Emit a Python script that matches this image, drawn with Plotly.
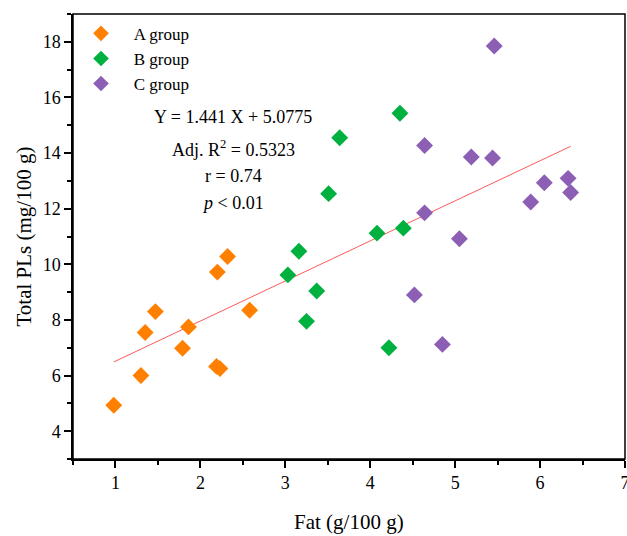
import plotly.graph_objects as go

a_x = [0.98, 1.30, 1.35, 1.47, 1.79, 1.86, 2.20, 2.32, 2.19, 2.23, 2.58]
a_y = [4.93, 6.00, 7.55, 8.30, 6.98, 7.75, 9.72, 10.28, 6.33, 6.25, 8.35]
b_x = [4.35, 3.64, 3.51, 4.08, 4.39, 3.16, 3.03, 3.37, 3.25, 4.22]
b_y = [15.43, 14.55, 12.54, 11.12, 11.30, 10.47, 9.62, 9.04, 7.95, 7.00]
c_x = [5.46, 4.64, 5.19, 5.44, 6.33, 6.05, 6.36, 5.89, 4.64, 5.05, 4.52, 4.85]
c_y = [17.85, 14.27, 13.86, 13.82, 13.09, 12.93, 12.58, 12.24, 11.85, 10.92, 8.90, 7.12]
slope, intercept = 1.441, 5.0775
groups = ["A group", "B group", "C group"]
colors = ["#FF8000", "#00B140", "#8C5FB5"]

all_x = a_x + b_x + c_x
fit_x = [min(all_x), max(all_x)]
fit_y = [slope * v + intercept for v in fit_x]

font = "Liberation Serif"
L, R, T, B = 73, 625, 14, 459
W, H = 627, 536

fig = go.Figure()
fig.add_trace(go.Scatter(x=fit_x, y=fit_y, mode="lines",
                         line=dict(color="rgba(255,60,60,0.85)", width=1),
                         showlegend=False, hoverinfo="skip"))
for name, xs, ys, col in zip(groups, [a_x, b_x, c_x], [a_y, b_y, c_y], colors):
    fig.add_trace(go.Scatter(x=xs, y=ys, mode="markers", name="&nbsp;&nbsp;&nbsp;" + name,
                             marker=dict(symbol="diamond", size=13, color=col,
                                         line=dict(width=0))))

ann_lines = ["Y = 1.441 X + 5.0775", "Adj. R<sup>2</sup> = 0.5323", "r = 0.74", "<i>p</i> < 0.01"]
ann_y = [117, 148, 176, 203]
for t, py in zip(ann_lines, ann_y):
    fig.add_annotation(x=(233 - L) / (R - L), y=1 - (py - T) / (B - T),
                       xref="paper", yref="paper", text=t, showarrow=False,
                       font=dict(family=font, size=18, color="black"),
                       xanchor="center", yanchor="middle")

# axis titles
fig.add_annotation(x=(349 - L) / (R - L), y=-(522 - B) / (B - T), xref="paper", yref="paper",
                   text="Fat (g/100 g)", showarrow=False, xanchor="center", yanchor="middle",
                   font=dict(family=font, size=21, color="black"))
fig.add_annotation(x=-(L - 23) / (R - L), y=0.5, xref="paper", yref="paper",
                   text="Total PLs (mg/100 g)", showarrow=False, textangle=-90,
                   xanchor="center", yanchor="middle",
                   font=dict(family=font, size=21, color="black"))

# frame
fig.add_shape(type="rect", xref="paper", yref="paper", x0=0, x1=1, y0=0, y1=1,
              line=dict(color="black", width=1.5), layer="above")

fig.update_layout(
    width=W, height=H,
    margin=dict(l=L, r=W - R, t=T, b=H - B),
    paper_bgcolor="white", plot_bgcolor="white",
    font=dict(family=font, size=16, color="black"),
    legend=dict(x=0.0145, y=0.996, xanchor="left", yanchor="top",
                bgcolor="rgba(0,0,0,0)", font=dict(family=font, size=17),
                itemsizing="constant", tracegroupgap=0),
    xaxis=dict(range=[0.5, 7], tickvals=[1, 2, 3, 4, 5, 6, 7], automargin=False,
               ticklabeloverflow="allow",
               ticks="outside", ticklen=7, tickwidth=1.5, tickcolor="black",
               minor=dict(tickvals=[0.5, 1.5, 2.5, 3.5, 4.5, 5.5, 6.5], ticks="outside",
                          ticklen=4, tickwidth=1.5, tickcolor="black"),
               showline=True, linecolor="black", linewidth=1.5,
               showgrid=False, zeroline=False,
               tickfont=dict(family=font, size=18)),
    yaxis=dict(range=[3, 19], tickvals=[4, 6, 8, 10, 12, 14, 16, 18], automargin=False,
               ticks="outside", ticklen=7, tickwidth=1.5, tickcolor="black",
               minor=dict(tickvals=[3, 5, 7, 9, 11, 13, 15, 17, 19], ticks="outside",
                          ticklen=4, tickwidth=1.5, tickcolor="black"),
               showline=True, linecolor="black", linewidth=1.5,
               showgrid=False, zeroline=False,
               tickfont=dict(family=font, size=18)),
)

fig.write_html("out.html", config={"displayModeBar": False},
               post_script="document.body.style.margin='0';document.body.style.overflow='hidden';")
